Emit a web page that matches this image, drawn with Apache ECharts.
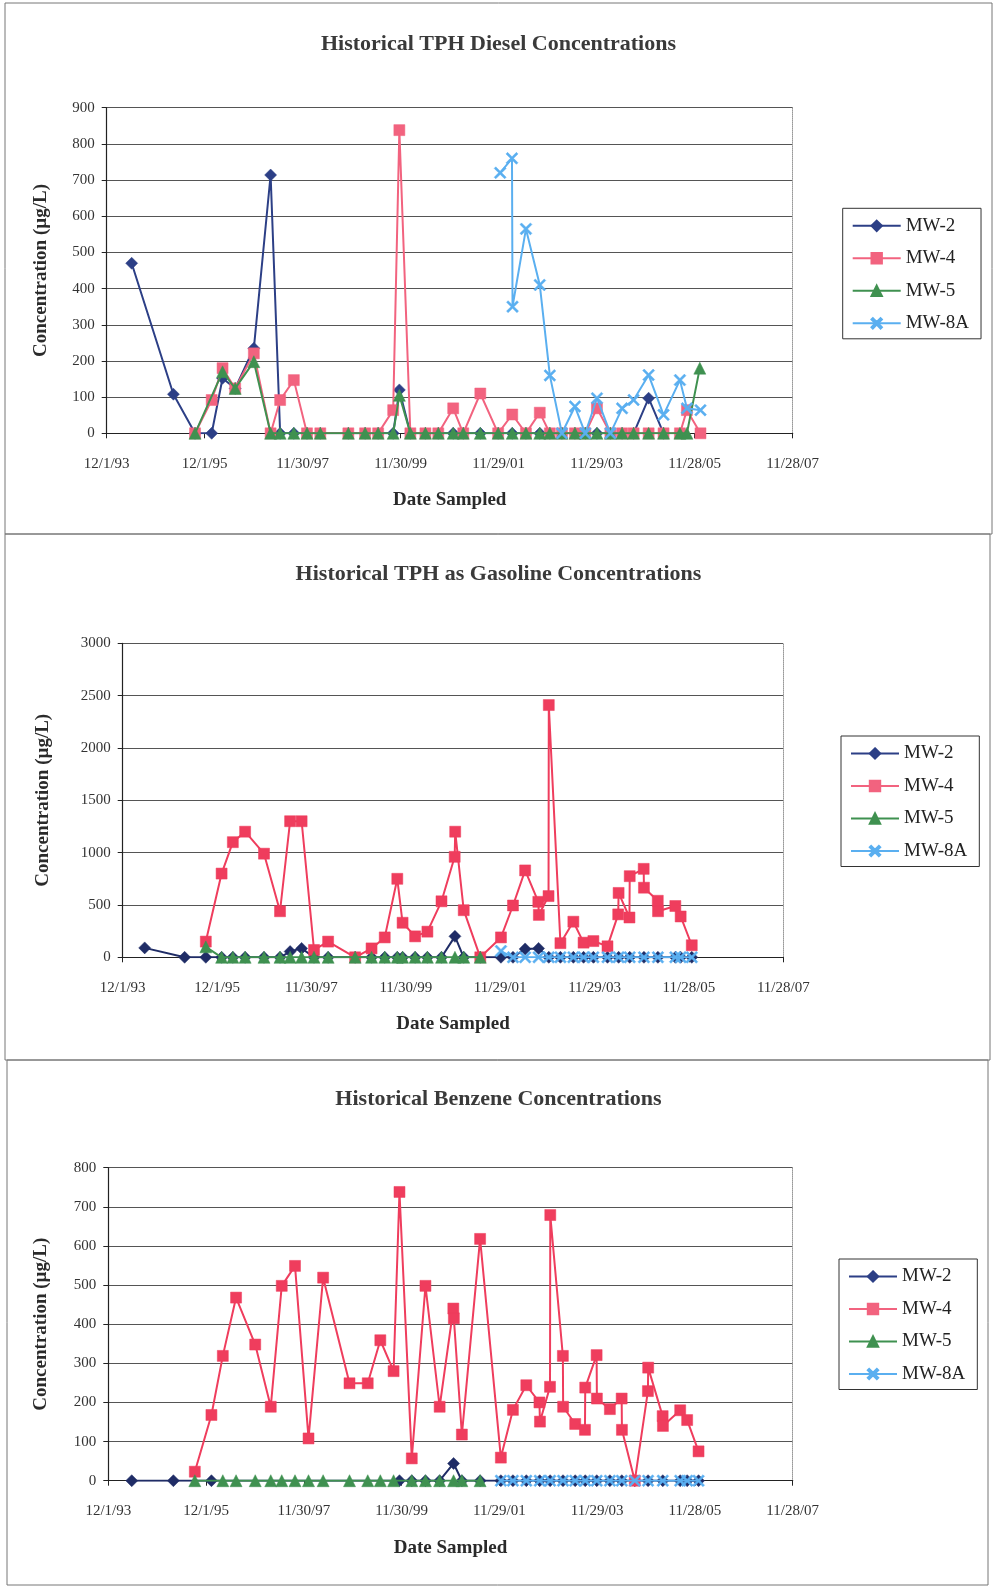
<!DOCTYPE html>
<html><head><meta charset="utf-8">
<script src="https://cdn.jsdelivr.net/npm/echarts@6/dist/echarts.min.js"></script>
<style>html,body{margin:0;padding:0;background:#fff}#c{width:997px;height:1587px}</style>
</head><body><div id="c"></div>
<script>
// ---- tick labels (x axis every 730 days from 12/1/93) ----
const dateTicks = ['12/1/93','12/1/95','11/30/97','11/30/99','11/29/01','11/29/03','11/28/05','11/28/07'];
const titles = ['Historical TPH Diesel Concentrations','Historical TPH as Gasoline Concentrations','Historical Benzene Concentrations'];
const wells = ['MW-2','MW-4','MW-5','MW-8A'];
const yMax = [900, 3000, 800];
const yStep = [100, 500, 100];

// ---- TPH Diesel ----
const dieselMW2 = [['1994-06-05',470],['1995-04-12',108],['1995-09-20',0],['1996-01-22',0],['1996-04-12',152],['1996-07-15',124],['1996-12-01',235],['1997-04-05',714],['1997-06-15',0],['1997-09-25',0],['1998-01-01',0],['1998-04-10',0],['1998-11-05',0],['1999-03-10',0],['1999-06-15',0],['1999-10-05',0],['1999-11-20',120],['2000-02-10',0],['2000-06-01',0],['2000-09-05',0],['2000-12-25',0],['2001-03-10',0],['2001-07-15',0],['2001-11-25',0],['2002-03-10',0],['2002-06-20',0],['2002-10-01',0],['2002-12-15',0],['2003-03-15',0],['2003-06-20',0],['2003-09-05',0],['2003-12-01',0],['2004-03-10',0],['2004-06-05',0],['2004-08-30',0],['2004-12-20',97],['2005-04-10',0]];
const dieselMW4 = [['1995-09-20',0],['1996-01-22',92],['1996-04-12',180],['1996-07-15',124],['1996-12-01',221],['1997-04-05',0],['1997-06-15',92],['1997-09-25',147],['1998-01-01',0],['1998-04-10',0],['1998-11-05',0],['1999-03-10',0],['1999-06-15',0],['1999-10-05',64],['1999-11-20',838],['2000-02-10',0],['2000-06-01',0],['2000-09-05',0],['2000-12-25',69],['2001-03-10',0],['2001-07-15',110],['2001-11-25',0],['2002-03-10',52],['2002-06-20',0],['2002-10-01',57],['2002-12-15',0],['2003-03-15',0],['2003-06-20',0],['2003-09-05',0],['2003-12-01',69],['2004-03-10',0],['2004-06-05',0],['2004-08-30',0],['2004-12-20',0],['2005-04-10',0],['2005-08-10',0],['2005-10-01',64],['2006-01-10',0]];
const dieselMW5 = [['1995-09-20',0],['1996-04-12',170],['1996-07-15',124],['1996-12-01',198],['1997-04-05',0],['1997-06-15',0],['1997-09-25',0],['1998-01-01',0],['1998-04-10',0],['1998-11-05',0],['1999-03-10',0],['1999-06-15',0],['1999-10-05',0],['1999-11-20',105],['2000-02-10',0],['2000-06-01',0],['2000-09-05',0],['2000-12-25',0],['2001-03-10',0],['2001-07-15',0],['2001-11-25',0],['2002-03-10',0],['2002-06-20',0],['2002-10-01',0],['2002-12-15',0],['2003-03-15',0],['2003-06-20',0],['2003-09-05',0],['2003-12-01',0],['2004-03-10',0],['2004-06-05',0],['2004-08-30',0],['2004-12-20',0],['2005-04-10',0],['2005-08-10',0],['2005-10-01',0],['2006-01-05',180]];
const dieselMW8A = [['2001-12-10',720],['2002-03-08',760],['2002-03-12',350],['2002-06-20',565],['2002-10-01',410],['2002-12-15',160],['2003-03-15',0],['2003-06-20',74],['2003-09-05',0],['2003-12-01',97],['2004-03-10',0],['2004-06-05',69],['2004-08-30',92],['2004-12-20',161],['2005-04-10',51],['2005-08-10',147],['2005-10-01',69],['2006-01-10',64]];

// ---- TPH as Gasoline ----
const gasMW2 = [['1994-05-20',90],['1995-03-25',0],['1995-09-05',0],['1996-01-05',0],['1996-04-01',0],['1996-07-05',0],['1996-11-28',0],['1997-04-01',0],['1997-06-18',55],['1997-09-15',85],['1997-12-20',0],['1998-04-08',0],['1998-11-03',0],['1999-03-10',0],['1999-06-20',0],['1999-09-25',0],['1999-11-05',0],['2000-02-10',0],['2000-05-15',0],['2000-09-01',0],['2000-12-14',200],['2001-02-20',0],['2001-06-28',0],['2001-12-05',0],['2002-03-08',0],['2002-06-10',80],['2002-09-22',85],['2002-12-10',0],['2003-03-10',0],['2003-06-18',0],['2003-09-05',0],['2003-11-20',0],['2004-03-08',0],['2004-06-02',0],['2004-08-27',0],['2004-12-15',0],['2005-04-02',0],['2005-08-15',0],['2005-09-25',0],['2005-12-20',0]];
const gasMW4 = [['1995-09-05',150],['1996-01-05',800],['1996-04-01',1100],['1996-07-05',1200],['1996-11-28',990],['1997-04-01',440],['1997-06-18',1300],['1997-09-15',1300],['1997-12-20',70],['1998-04-08',150],['1998-11-03',0],['1999-03-10',85],['1999-06-20',190],['1999-09-25',750],['1999-11-05',330],['2000-02-10',200],['2000-05-15',245],['2000-09-01',535],['2000-12-12',960],['2000-12-16',1200],['2001-02-20',450],['2001-06-28',0],['2001-12-05',190],['2002-03-08',495],['2002-06-10',830],['2002-09-20',530],['2002-09-24',405],['2002-12-08',585],['2002-12-10',2410],['2003-03-10',135],['2003-06-18',340],['2003-09-05',140],['2003-11-20',155],['2004-03-08',105],['2004-05-30',410],['2004-06-02',615],['2004-08-25',380],['2004-08-27',775],['2004-12-13',845],['2004-12-15',665],['2005-04-01',540],['2005-04-03',440],['2005-08-15',490],['2005-09-25',390],['2005-12-20',115]];
const gasMW5 = [['1995-09-05',100],['1996-01-05',0],['1996-04-01',0],['1996-07-05',0],['1996-11-28',0],['1997-04-01',0],['1997-06-18',0],['1997-09-15',0],['1997-12-20',0],['1998-04-08',0],['1998-11-03',0],['1999-03-10',0],['1999-06-20',0],['1999-09-25',0],['1999-11-05',0],['2000-02-10',0],['2000-05-15',0],['2000-09-01',0],['2000-12-14',0],['2001-02-20',0],['2001-06-28',0]];
const gasMW8A = [['2001-12-05',60],['2002-03-08',0],['2002-06-10',0],['2002-09-22',0],['2002-12-10',0],['2003-03-10',0],['2003-06-18',0],['2003-09-05',0],['2003-11-20',0],['2004-03-08',0],['2004-06-02',0],['2004-08-27',0],['2004-12-15',0],['2005-04-02',0],['2005-08-15',0],['2005-09-25',0],['2005-12-20',0]];

// ---- Benzene ----
const benzMW2 = [['1994-05-25',0],['1995-04-01',0],['1996-01-10',0],['1999-11-14',0],['2000-02-14',0],['2000-05-26',0],['2000-09-09',0],['2000-12-22',44],['2001-02-22',0],['2001-07-08',0],['2001-12-10',0],['2002-03-10',0],['2002-06-18',0],['2002-09-26',0],['2002-12-13',0],['2003-03-19',0],['2003-06-18',0],['2003-09-01',0],['2003-11-26',0],['2004-03-03',0],['2004-05-31',0],['2004-09-05',0],['2004-12-13',0],['2005-04-02',0],['2005-08-10',0],['2005-10-01',0],['2005-12-25',0]];
const benzMW4 = [['1995-09-08',23],['1996-01-10',168],['1996-04-04',319],['1996-07-12',468],['1996-12-02',348],['1997-03-28',189],['1997-06-18',498],['1997-09-25',549],['1998-01-04',108],['1998-04-23',519],['1998-11-06',249],['1999-03-22',249],['1999-06-24',359],['1999-10-01',280],['1999-11-14',738],['2000-02-14',57],['2000-05-26',498],['2000-09-09',189],['2000-12-20',440],['2000-12-24',415],['2001-02-22',118],['2001-07-08',618],['2001-12-10',59],['2002-03-10',181],['2002-06-18',244],['2002-09-24',200],['2002-09-28',151],['2002-12-12',240],['2002-12-14',679],['2003-03-18',319],['2003-03-20',189],['2003-06-18',145],['2003-08-30',130],['2003-09-01',238],['2003-11-25',321],['2003-11-27',210],['2004-03-03',183],['2004-05-30',210],['2004-06-01',130],['2004-09-05',0],['2004-12-12',229],['2004-12-14',289],['2005-04-01',165],['2005-04-03',140],['2005-08-10',180],['2005-10-01',155],['2005-12-25',75]];
const benzMW5 = [['1995-09-08',0],['1996-04-04',0],['1996-07-12',0],['1996-12-02',0],['1997-03-28',0],['1997-06-18',0],['1997-09-25',0],['1998-01-04',0],['1998-04-23',0],['1998-11-06',0],['1999-03-22',0],['1999-06-24',0],['1999-10-01',0],['2000-02-14',0],['2000-05-26',0],['2000-09-09',0],['2000-12-22',0],['2001-02-22',0],['2001-07-08',0]];
const benzMW8A = [['2001-12-10',0],['2002-03-10',0],['2002-06-18',0],['2002-09-26',0],['2002-12-13',0],['2003-03-19',0],['2003-06-18',0],['2003-09-01',0],['2003-11-26',0],['2004-03-03',0],['2004-05-31',0],['2004-09-05',0],['2004-12-13',0],['2005-04-02',0],['2005-08-10',0],['2005-10-01',0],['2005-12-25',0]];

const chartData = [
  [dieselMW2, dieselMW4, dieselMW5, dieselMW8A],
  [gasMW2, gasMW4, gasMW5, gasMW8A],
  [benzMW2, benzMW4, benzMW5, benzMW8A]
];

// ---- helpers ----
const T0 = Date.UTC(1993, 11, 1);
function toDay(s){ const p = s.split('-').map(Number); return (Date.UTC(p[0], p[1]-1, p[2]) - T0) / 86400000; }
function pts(arr){ return arr.map(d => [toDay(d[0]), d[1]]); }

const FONT = 'Liberation Serif';
const colors = [
  ['#2c3f86','#f2637f','#3f9150','#5aaff0'],
  ['#1f2c66','#ef3d5d','#3f9150','#5aaff0'],
  ['#1f2c66','#ef3d5d','#3f9150','#5aaff0']
];
const XPATH = 'path://M0,1.3 L1.3,0 L5,3.7 L8.7,0 L10,1.3 L6.3,5 L10,8.7 L8.7,10 L5,6.3 L1.3,10 L0,8.7 L3.7,5 Z';
const symbols = ['diamond','rect','triangle',XPATH];
const symSizes = [12, 11, 12, 12];

const grids = [
  {left:106.7, top:107.7, width:686, height:325.6},
  {left:122.7, top:643.3, width:660.6, height:314},
  {left:108.3, top:1167.7, width:684.4, height:313}
];
const titleTops = [33, 563, 1088];
const yNameGap = [56, 70, 58];
const xNameGap = [57, 57, 58];
const legends = [
  {left:842.7, top:208.3},
  {left:841, top:736},
  {left:839, top:1259}
];

const option = {
  animation:false,
  backgroundColor:'#fff',
  title: titles.map((t,i)=>({text:t, left:'center', top:titleTops[i], padding:0,
    textStyle:{fontFamily:FONT, fontWeight:'bold', fontSize:22, color:'#3a3a3a'}})),
  grid: grids.map(g=>Object.assign({containLabel:false}, g)),
  legend: legends.map((l,i)=>({
    data: wells, orient:'vertical', left:l.left, top:l.top,
    itemWidth:48, itemHeight:13, itemGap:13.5, padding:[8,12,6,9],
    borderColor:'#333', borderWidth:1, backgroundColor:'#fff',
    textStyle:{fontFamily:FONT, fontSize:19, color:'#222'}
  })),
  xAxis: grids.map((g,i)=>({
    type:'value', gridIndex:i, min:0, max:5110, interval:730,
    name:'Date Sampled', nameLocation:'middle', nameGap:xNameGap[i],
    nameTextStyle:{fontFamily:FONT, fontWeight:'bold', fontSize:19, color:'#2a2a2a'},
    axisLine:{show:true, onZero:false, lineStyle:{color:'#222', width:1.2}},
    axisTick:{show:true, inside:false, length:5, lineStyle:{color:'#222'}},
    splitLine:{show:false},
    axisLabel:{fontFamily:FONT, fontSize:15, color:'#333', margin:23,
      formatter: v => dateTicks[Math.round(v/730)] || ''}
  })),
  yAxis: [].concat(...grids.map((g,i)=>[
    {type:'value', gridIndex:i, min:0, max:yMax[i], interval:yStep[i],
     name:'Concentration (µg/L)', nameLocation:'middle', nameGap:yNameGap[i],
     nameTextStyle:{fontFamily:FONT, fontWeight:'bold', fontSize:19, color:'#2a2a2a'},
     axisLine:{show:true, lineStyle:{color:'#222', width:1.2}},
     axisTick:{show:true, inside:false, length:5, lineStyle:{color:'#222'}},
     splitLine:{show:true, lineStyle:{color:'#555', width:1.2}},
     axisLabel:{fontFamily:FONT, fontSize:15, color:'#333', margin:12, formatter: v => String(v)}},
    {type:'value', gridIndex:i, position:'right', min:0, max:1,
     axisLine:{show:true, lineStyle:{color:'#999', width:1, type:'dotted'}},
     axisTick:{show:false}, axisLabel:{show:false}, splitLine:{show:false}}
  ])),
  series: [].concat(...chartData.map((set,ci)=>set.map((arr,si)=>({
    type:'line', name:wells[si], xAxisIndex:ci, yAxisIndex:ci*2,
    data: pts(arr), symbol:symbols[si], symbolSize:symSizes[si], showSymbol:true,
    lineStyle:{color:colors[ci][si], width:2},
    itemStyle:{color:colors[ci][si], borderColor:colors[ci][si], borderWidth:0.5},
    z: 2+si
  })))),
  graphic: [
    {type:'rect', shape:{x:5, y:3, width:987, height:531}, style:{fill:'none', stroke:'#777', lineWidth:1}, silent:true},
    {type:'rect', shape:{x:5, y:534, width:985, height:526}, style:{fill:'none', stroke:'#777', lineWidth:1}, silent:true},
    {type:'rect', shape:{x:7, y:1060, width:981, height:525}, style:{fill:'none', stroke:'#777', lineWidth:1}, silent:true}
  ]
};

const chart = echarts.init(document.getElementById('c'), null, {renderer:'canvas'});
chart.setOption(option);
</script>
</body></html>
